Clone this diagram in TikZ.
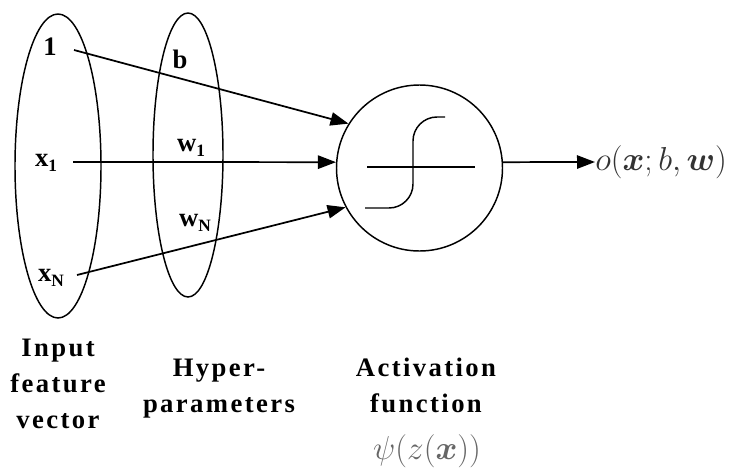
\documentclass[tikz,border=0pt]{standalone}
\usepackage{amsmath}
\usepackage{fontspec}
\setmainfont{Liberation Serif}
\usetikzlibrary{arrows.meta,shapes.geometric}
\begin{document}
\begin{tikzpicture}[x=0.75pt,y=-0.75pt,
  every node/.style={inner sep=0pt},
  setel/.style={draw,ellipse,line width=1.1pt},
  conn/.style={line width=1.3pt,-{Triangle[length=13.5pt,width=10pt]}},
  inlab/.style={font=\bfseries\fontsize{20}{20}\selectfont},
  caption/.style={font=\bfseries\fontsize{20}{27}\selectfont\addfontfeature{LetterSpace=9},align=center}]
\useasboundingbox (0,0) rectangle (746,468);
\newcommand{\mysub}[1]{\raisebox{-0.35ex}{\fontsize{13}{13}\selectfont #1}}
% ellipses
\node[setel,minimum width=64.5pt,minimum height=228pt] (inset) at (58,166) {};
\node[setel,minimum width=52.5pt,minimum height=213pt] (hpset) at (188,155) {};
% neuron
\node[draw,circle,line width=1.1pt,minimum size=124.5pt] (neuron) at (419.5,168) {};
\draw[line width=1.1pt] (367,167) -- (475,167);
\draw[line width=1.1pt,rounded corners=18pt] (365,208) -- (413,208) -- (413,117) -- (445,117);
% labels
\node[inlab] (one) at (50,47) {1};
\node[inlab] (x1) at (46,163) {x\mysub{1}};
\node[inlab] (xN) at (51,278) {x\mysub{N}};
\node[inlab] (b) at (180,59) {b};
\node[inlab] (w1) at (191,148) {w\mysub{1}};
\node[inlab] (wN) at (195,223) {w\mysub{N}};
% arrow starts
\coordinate (s1) at (74,50);
\coordinate (s2) at (73,162);
\coordinate (s3) at (77,275);
\draw[conn] (s1) -- (neuron.148);
\draw[conn] (s2) -- (neuron.176);
\draw[conn] (s3) -- (neuron.208);
% output
\node[anchor=west,text=black!80,font=\fontsize{27}{27}\selectfont] (out) at (595,162) {$o(\boldsymbol{x};b,\boldsymbol{w})$};
\draw[conn] (neuron.4) -- (out.west);
% captions
\node[caption] (capin) at (58,384) {Input\\feature\\vector};
\node[caption] (caphp) at (219,389) {Hyper-\\parameters};
\node[caption] (capact) at (426,385) {Activation\\function};
\node[text=black!60,font=\fontsize{25}{25}\selectfont] (psi) at (427,451) {$\psi(z(\boldsymbol{x}))$};
\end{tikzpicture}
\end{document}
